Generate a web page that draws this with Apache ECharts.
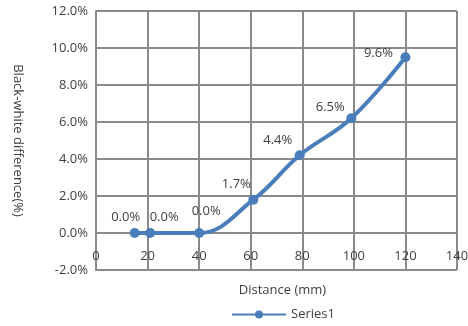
<!DOCTYPE html>
<html>
<head>
<meta charset="utf-8">
<script src="https://cdn.jsdelivr.net/npm/echarts@6/dist/echarts.min.js"></script>
<style>
  html, body { margin: 0; padding: 0; background: #fff; }
  #chart { width: 468px; height: 326px; }
</style>
</head>
<body>
<div id="chart"></div>
<script>
// distance (mm) and measured black-white difference (%)
var distance = [15, 21, 40, 61, 79, 99, 120];
var difference = [0.0, 0.0, 0.0, 1.8, 4.2, 6.2, 9.5];
// data label texts as printed on the chart
var labelTexts = ['0.0%', '0.0%', '0.0%', '1.7%', '4.4%', '6.5%', '9.6%'];
var seriesName = 'Series1';

// where each label sits relative to its point
var labelOffsets = [[-9, 1], [14, 1], [7, -5], [-17, 1], [-22, 1], [-21, 5], [-27, 13]];

var font = '"Open Sans", "Noto Sans", sans-serif';
var textColor = '#404040';
var gridColor = '#8a8a8a';
var lineColor = '#4a7ebb';

var points = [];
for (var i = 0; i < distance.length; i++) {
  points.push({
    value: [distance[i], difference[i]],
    label: { formatter: labelTexts[i], offset: labelOffsets[i] }
  });
}

var chart = echarts.init(document.getElementById('chart'), null, { renderer: 'canvas' });
chart.setOption({
  animation: false,
  textStyle: { fontFamily: font },
  grid: { left: 96, right: 11, top: 11, bottom: 56, outerBoundsMode: 'none', containLabel: false },
  xAxis: {
    type: 'value',
    min: 0, max: 140, interval: 20,
    position: 'bottom',
    offset: -37, // horizontal axis crosses at 0%
    name: 'Distance (mm)',
    nameLocation: 'middle',
    nameGap: 51,
    nameTextStyle: { fontFamily: font, fontSize: 13, color: textColor, padding: [0, 0, 0, 12] },
    axisLine: { show: true, onZero: false, lineStyle: { color: gridColor, width: 2 } },
    axisTick: { show: false },
    axisLabel: { fontFamily: font, fontSize: 13, color: textColor, margin: 17 },
    splitLine: { show: true, lineStyle: { color: gridColor, width: 2 } }
  },
  yAxis: {
    type: 'value',
    min: -2, max: 12, interval: 2,
    name: 'Black-white difference(%)',
    nameLocation: 'middle',
    nameRotate: -90,
    nameGap: 72,
    nameTextStyle: { fontFamily: font, fontSize: 13, color: textColor },
    axisLine: { show: true, onZero: false, lineStyle: { color: gridColor, width: 2 } },
    axisTick: { show: false },
    axisLabel: {
      fontFamily: font, fontSize: 13, color: textColor, margin: 8,
      formatter: function (v) { return v.toFixed(1) + '%'; }
    },
    splitLine: { show: true, lineStyle: { color: gridColor, width: 2 } }
  },
  legend: {
    data: [seriesName],
    left: 226, top: 303,
    itemWidth: 54, itemHeight: 10,
    textStyle: { fontFamily: font, fontSize: 13, color: textColor }
  },
  series: [{
    name: seriesName,
    type: 'line',
    data: points,
    smooth: 0.4,
    symbol: 'circle',
    symbolSize: 10,
    color: lineColor,
    lineStyle: { color: lineColor, width: 4 },
    itemStyle: { color: lineColor },
    label: {
      show: true,
      position: 'top',
      fontFamily: font,
      fontSize: 13,
      color: textColor
    }
  }]
});
</script>
</body>
</html>
